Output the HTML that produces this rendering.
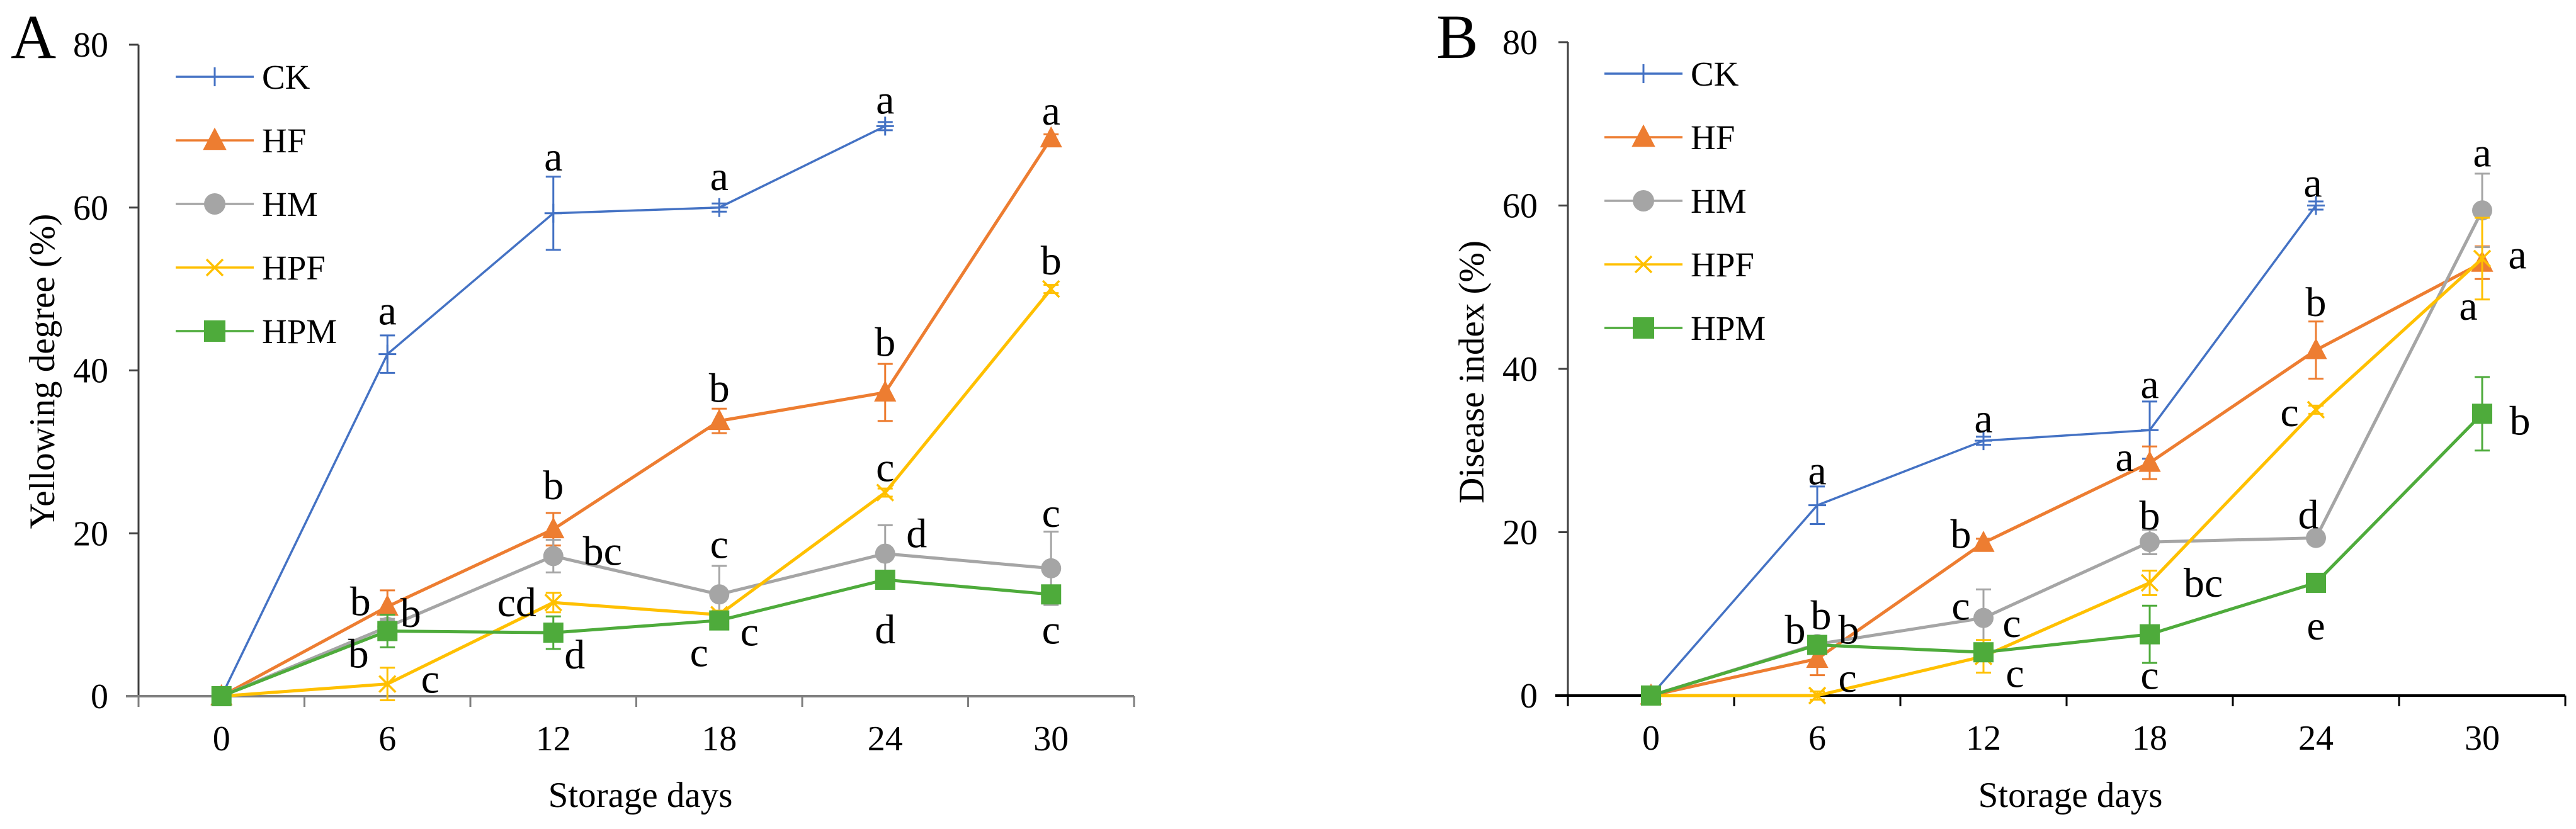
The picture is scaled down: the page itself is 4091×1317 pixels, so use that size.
<!DOCTYPE html>
<html><head><meta charset="utf-8"><style>
html,body{margin:0;padding:0;background:#fff;}
svg{display:block;}
svg text{font-family:"Liberation Serif","DejaVu Serif",serif;}
</style></head><body>
<svg id="chart" width="4091" height="1317" viewBox="0 0 4091 1317" xmlns="http://www.w3.org/2000/svg" font-family="Liberation Serif, serif"></svg>
<script>
const categories = ["0","6","12","18","24","30"];
const yTicks = [0,20,40,60,80];
const seriesNames = ["CK","HF","HM","HPF","HPM"];
const seriesColors = ["#4472C4","#ED7D31","#A5A5A5","#FFC000","#4EAB3B"];
const markers = ["plus","triangle","circle","cross","square"];

// Panel A: Yellowing degree
const aCK  = [0,42,59.3,60,70,null];
const aHF  = [0,11,20.5,33.8,37.3,68.5];
const aHM  = [0,8.5,17.2,12.5,17.5,15.7];
const aHPF = [0,1.5,11.5,10,25,50];
const aHPM = [0,8,7.8,9.3,14.3,12.5];
const aErrCK  = [0,2.3,4.5,0.5,0.5,0];
const aErrHF  = [0,2,2,1.5,3.5,0.5];
const aErrHM  = [0,1,2,3.5,3.5,4.5];
const aErrHPF = [0,2,1.2,0.5,0.5,0.5];
const aErrHPM = [0,2,2,1,1,1];
const aLetCK  = ["","a","a","a","a",""];
const aLetHF  = ["","b","b","b","b","a"];
const aLetHM  = ["","b","bc","c","d","c"];
const aLetHPF = ["","c","cd","c","c","b"];
const aLetHPM = ["","b","d","c","d","c"];

// Panel B: Disease index
const bCK  = [0,23.3,31.2,32.5,60,null];
const bHF  = [0,4.5,18.7,28.5,42.3,53];
const bHM  = [0,6.3,9.5,18.8,19.3,59.4];
const bHPF = [0,0,4.8,13.8,35,53.5];
const bHPM = [0,6.2,5.3,7.5,13.8,34.5];
const bErrCK  = [0,2.3,0.5,3.5,0.5,0];
const bErrHF  = [0,2,0.5,2,3.5,2];
const bErrHM  = [0,0.5,3.5,1.5,0.5,4.5];
const bErrHPF = [0,0.5,2,1.5,0.5,5];
const bErrHPM = [0,1,1,3.5,1,4.5];
const bLetCK  = ["","a","a","a","a",""];
const bLetHF  = ["","b","b","a","b","a"];
const bLetHM  = ["","b","c","b","d","a"];
const bLetHPF = ["","c","c","bc","c","a"];
const bLetHPM = ["","b","c","c","e","b"];

// label offsets (px from point) - layout, not data
const aOff = [
 [null,[0,-69],[0,-90],[0,-50],[0,-42],null],
 [null,[-43,-8],[0,-70],[0,-52],[0,-80],[0,-44]],
 [null,[37,-22],[78,-8],[0,-80],[50,-32],[0,-88]],
 [null,[68,-8],[-58,0],[-32,60],[0,-40],[0,-45]],
 [null,[-46,36],[34,35],[48,18],[0,79],[0,56]]
];
const bOff = [
 [null,[0,-55],[0,-35],[0,-73],[-5,-36],null],
 [null,[6,-69],[-36,-14],[-40,-9],[0,-76],[56,-13]],
 [null,[50,-23],[-36,-19],[0,-42],[-12,-37],[0,-92]],
 [null,[48,-28],[50,27],[85,0],[-42,4],[-22,75]],
 [null,[-35,-24],[45,-46],[0,65],[0,68],[60,11]]
];

const NS="http://www.w3.org/2000/svg";
const SERIF='"Liberation Serif", serif';
const svg=document.getElementById('chart');
function el(tag,attrs,parent){const e=document.createElementNS(NS,tag);for(const k in attrs)e.setAttribute(k,attrs[k]);if(tag==='text')e.setAttribute('font-family',SERIF);(parent||svg).appendChild(e);return e;}

function drawMarker(g,type,cx,cy,color,s){
  let m;
  if(type==="plus"){m=el('path',{d:`M${cx-14} ${cy}H${cx+14}M${cx} ${cy-15}V${cy+15}`,stroke:color,'stroke-width':3,fill:'none'},g);}
  else if(type==="triangle"){m=el('polygon',{points:`${cx},${cy-s*0.6} ${cx+s*0.55},${cy+s*0.45} ${cx-s*0.55},${cy+s*0.45}`,fill:color},g);}
  else if(type==="circle"){m=el('circle',{cx:cx,cy:cy,r:s*0.5,fill:color},g);}
  else if(type==="cross"){m=el('path',{d:`M${cx-13} ${cy-13}L${cx+13} ${cy+13}M${cx+13} ${cy-13}L${cx-13} ${cy+13}`,stroke:color,'stroke-width':3.5,fill:'none'},g);}
  else {m=el('rect',{x:cx-s*0.5,y:cy-s*0.5,width:s,height:s,fill:color},g);}
  
  
}

function panel(cfg){
  const g=el('g',{});
  
  
  const xScale=i=>cfg.x0+cfg.step*(i+0.5);
  const yScale=v=>cfg.yZero-(cfg.yZero-cfg.yTop)*v/80;
  const xEnd=cfg.x0+cfg.step*6;
  const pl=el('text',{x:cfg.letterX,y:92,'font-size':100,fill:'#000'},g);pl.textContent=cfg.letter;
  
  const ya=el('line',{x1:cfg.x0,y1:cfg.yTop,x2:cfg.x0,y2:cfg.yZero+16,stroke:'#404040','stroke-width':3},g);
  
  yTicks.forEach(t=>{
    const y=yScale(t);
    el('line',{x1:cfg.x0-15,y1:y,x2:cfg.x0,y2:y,stroke:'#404040','stroke-width':3},g);
    const tl=el('text',{x:cfg.x0-48,y:y+19,'font-size':56,'text-anchor':'end',fill:'#000'},g);
    tl.textContent=t;
  });
  const xa=el('line',{x1:cfg.x0-20,y1:cfg.yZero,x2:xEnd,y2:cfg.yZero,stroke:cfg.xColor,'stroke-width':4},g);
  
  for(let i=0;i<=6;i++){const x=cfg.x0+cfg.step*i;el('line',{x1:x,y1:cfg.yZero,x2:x,y2:cfg.yZero+17,stroke:cfg.xColor,'stroke-width':3},g);}
  categories.forEach((c,i)=>{
    const t=el('text',{x:xScale(i),y:cfg.yZero+86,'font-size':56,'text-anchor':'middle',fill:'#000'},g);
    t.textContent=c;
  });
  const xt=el('text',{x:cfg.xTitleX,y:1282,'font-size':57,'text-anchor':'middle',fill:'#000'},g);
  xt.textContent="Storage days";
  const yt=el('text',{x:0,y:0,'font-size':57,'text-anchor':'middle',fill:'#000',transform:`translate(${cfg.yTitleX},${cfg.yTitleY}) rotate(-90)`},g);
  yt.textContent=cfg.yTitle;
  cfg.series.forEach((vals,si)=>{
    const color=seriesColors[si];
    const sg=el('g',{},g);
    
    
    let d='';
    vals.forEach((v,i)=>{if(v===null)return;d+=(d?'L':'M')+xScale(i)+' '+yScale(v);});
    const ln=el('path',{d:d,fill:'none',stroke:color,'stroke-width':si===0?3.5:5},sg);
    
    vals.forEach((v,i)=>{
      if(v===null)return;
      const x=xScale(i),y=yScale(v),e=cfg.errs[si][i];
      if(e>0){
        const y1=yScale(v+e),y2=yScale(v-e);
        const eb=el('path',{d:`M${x} ${y1}V${y2}M${x-12} ${y1}H${x+12}M${x-12} ${y2}H${x+12}`,stroke:color,'stroke-width':3,fill:'none'},sg);
        
      }
      drawMarker(sg,markers[si],x,y,color,32);
      const lab=cfg.letters[si][i];const off=cfg.offs[si][i];
      if(lab&&off){
        const t=el('text',{x:x+off[0],y:y+off[1]+22,'font-size':66,'text-anchor':'middle',fill:'#000'},sg);
        t.textContent=lab;
      }
    });
  });
  const lg=el('g',{},g);
  
  seriesNames.forEach((n,si)=>{
    const y=cfg.legY+si*101;
    const eg=el('g',{},lg);
    
    el('line',{x1:cfg.legX,y1:y,x2:cfg.legX+124,y2:y,stroke:seriesColors[si],'stroke-width':3.5},eg);
    drawMarker(eg,markers[si],cfg.legX+62,y,seriesColors[si],34);
    const t=el('text',{x:cfg.legX+137,y:y+19,'font-size':55,fill:'#000'},eg);t.textContent=n;
  });
}

panel({name:'panel-a-yellowing',letter:'A',letterX:17,x0:220,step:263.5,yTop:71,yZero:1106,xColor:'#7f7f7f',
  xTitleX:1017,yTitleX:86,yTitleY:590,yTitle:'Yellowing degree (%)',legX:279,legY:122,
  series:[aCK,aHF,aHM,aHPF,aHPM],errs:[aErrCK,aErrHF,aErrHM,aErrHPF,aErrHPM],
  letters:[aLetCK,aLetHF,aLetHM,aLetHPF,aLetHPM],offs:aOff});
panel({name:'panel-b-disease',letter:'B',letterX:2281,x0:2490,step:264,yTop:67,yZero:1105,xColor:'#000',
  xTitleX:3288,yTitleX:2356,yTitleY:591,yTitle:'Disease index (%)',legX:2548,legY:117,
  series:[bCK,bHF,bHM,bHPF,bHPM],errs:[bErrCK,bErrHF,bErrHM,bErrHPF,bErrHPM],
  letters:[bLetCK,bLetHF,bLetHM,bLetHPF,bLetHPM],offs:bOff});
</script>
</body></html>
